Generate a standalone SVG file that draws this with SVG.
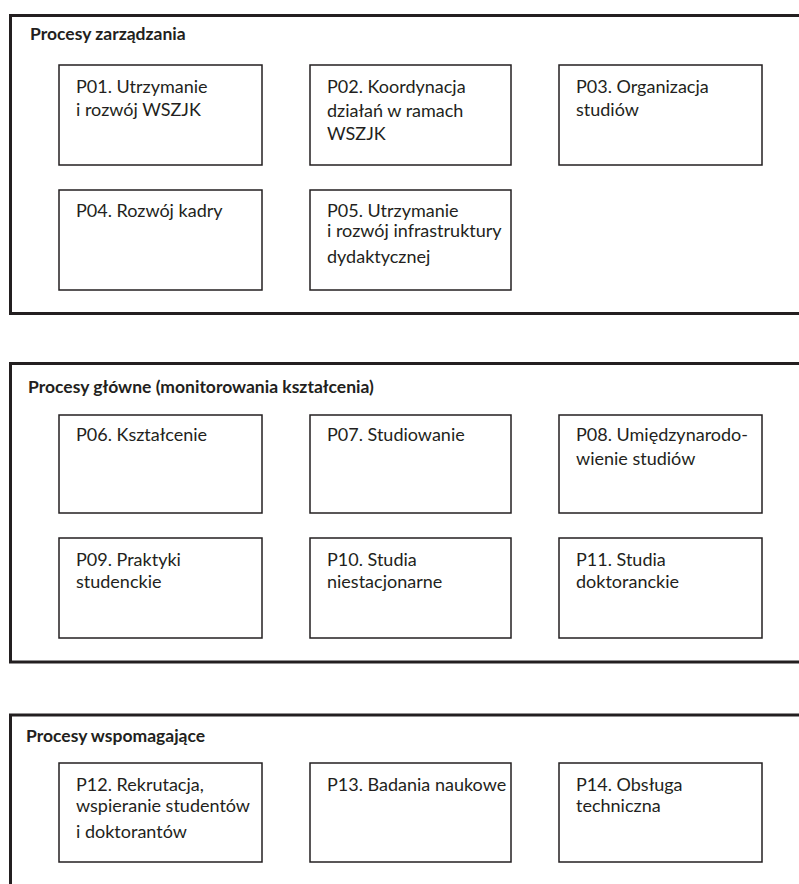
<svg xmlns="http://www.w3.org/2000/svg" width="799" height="884" viewBox="0 0 799 884">
<style>
.cont{fill:none;stroke:#231f20;stroke-width:3}
.box{fill:#fff;stroke:#231f20;stroke-width:1.5}
.t{font-family:Lato,"Liberation Sans",sans-serif;font-size:18px;fill:#231f20}
.h{font-family:Lato,"Liberation Sans",sans-serif;font-size:17.5px;font-weight:bold;fill:#231f20}
</style>
<rect width="799" height="884" fill="#fff"/>
<g id="grp-zarzadzania">
<rect class="cont" x="10.5" y="15.5" width="800" height="298"/>
<text class="h" x="30" y="40">Procesy zarządzania</text>
</g>
<g id="grp-glowne">
<rect class="cont" x="10.5" y="363.5" width="800" height="298.5"/>
<text class="h" x="28" y="393">Procesy główne (monitorowania kształcenia)</text>
</g>
<g id="grp-wspomagajace">
<rect class="cont" x="10.5" y="715" width="800" height="200"/>
<text class="h" x="26" y="742">Procesy wspomagające</text>
</g>
<g id="P01"><rect class="box" x="59" y="65" width="203" height="100"/><text class="t" x="76" y="93">P01. Utrzymanie</text><text class="t" x="76" y="116">i rozwój WSZJK</text></g>
<g id="P02"><rect class="box" x="310" y="65" width="201" height="100"/><text class="t" x="327" y="93">P02. Koordynacja</text><text class="t" x="327" y="117">działań w ramach</text><text class="t" x="327" y="140">WSZJK</text></g>
<g id="P03"><rect class="box" x="559" y="65" width="203" height="100"/><text class="t" x="576" y="93">P03. Organizacja</text><text class="t" x="576" y="116">studiów</text></g>
<g id="P04"><rect class="box" x="59" y="190" width="203" height="100"/><text class="t" x="76" y="217">P04. Rozwój kadry</text></g>
<g id="P05"><rect class="box" x="310" y="190" width="201" height="100"/><text class="t" x="327" y="217">P05. Utrzymanie</text><text class="t" x="327" y="237">i rozwój infrastruktury</text><text class="t" x="327" y="263">dydaktycznej</text></g>
<g id="P06"><rect class="box" x="59" y="415" width="203" height="98"/><text class="t" x="76" y="441">P06. Kształcenie</text></g>
<g id="P07"><rect class="box" x="310" y="415" width="201" height="98"/><text class="t" x="327" y="441">P07. Studiowanie</text></g>
<g id="P08"><rect class="box" x="559" y="415" width="203" height="98"/><text class="t" x="576" y="441">P08. Umiędzynarodo-</text><text class="t" x="576" y="465">wienie studiów</text></g>
<g id="P09"><rect class="box" x="59" y="538" width="203" height="100"/><text class="t" x="76" y="566">P09. Praktyki</text><text class="t" x="76" y="588">studenckie</text></g>
<g id="P10"><rect class="box" x="310" y="538" width="201" height="100"/><text class="t" x="327" y="566">P10. Studia</text><text class="t" x="327" y="588">niestacjonarne</text></g>
<g id="P11"><rect class="box" x="559" y="538" width="203" height="100"/><text class="t" x="576" y="566">P11. Studia</text><text class="t" x="576" y="588">doktoranckie</text></g>
<g id="P12"><rect class="box" x="59" y="763" width="203" height="99"/><text class="t" x="76" y="791">P12. Rekrutacja,</text><text class="t" x="76" y="812">wspieranie studentów</text><text class="t" x="76" y="838">i doktorantów</text></g>
<g id="P13"><rect class="box" x="310" y="763" width="201" height="99"/><text class="t" x="327" y="791">P13. Badania naukowe</text></g>
<g id="P14"><rect class="box" x="559" y="763" width="203" height="99"/><text class="t" x="576" y="791">P14. Obsługa</text><text class="t" x="576" y="812">techniczna</text></g>
<g id="connectors"/>
</svg>
